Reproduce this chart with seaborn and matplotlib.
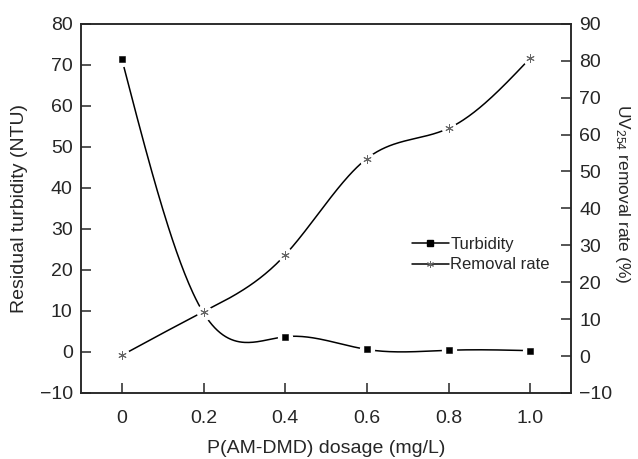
import numpy as np
import matplotlib
matplotlib.use("Agg")
import matplotlib.pyplot as plt
import pandas as pd
import seaborn as sns

# data
dosage = [0, 0.2, 0.4, 0.6, 0.8, 1.0]
turbidity = [71.4, 9.5, 3.7, 0.6, 0.4, 0.3]
removal = [0.2, 12.0, 27.4, 53.5, 61.7, 80.7]

xticks = [0, 0.2, 0.4, 0.6, 0.8, 1.0]
xticklabels = ["0", "0.2", "0.4", "0.6", "0.8", "1.0"]

sns.set_style("ticks")
plt.rcParams["font.family"] = ["Liberation Sans", "DejaVu Sans"]
plt.rcParams["mathtext.fontset"] = "custom"
plt.rcParams["mathtext.rm"] = "Liberation Sans"
plt.rcParams["mathtext.it"] = "Liberation Sans:italic"
plt.rcParams["axes.linewidth"] = 1.1


def natural_spline(x, y, n=300):
    # natural cubic spline, only used to draw the smooth connecting curve
    x = np.asarray(x, float)
    y = np.asarray(y, float)
    k = len(x)
    h = np.diff(x)
    A = np.zeros((k, k))
    b = np.zeros(k)
    A[0, 0] = 1
    A[-1, -1] = 1
    for i in range(1, k - 1):
        A[i, i - 1] = h[i - 1]
        A[i, i] = 2 * (h[i - 1] + h[i])
        A[i, i + 1] = h[i]
        b[i] = 3 * ((y[i + 1] - y[i]) / h[i] - (y[i] - y[i - 1]) / h[i - 1])
    c = np.linalg.solve(A, b)
    xs = np.linspace(x[0], x[-1], n)
    ys = np.empty_like(xs)
    for j, xv in enumerate(xs):
        i = min(np.searchsorted(x, xv, side="right") - 1, k - 2)
        bb = (y[i + 1] - y[i]) / h[i] - h[i] * (2 * c[i] + c[i + 1]) / 3
        d = (c[i + 1] - c[i]) / (3 * h[i])
        t = xv - x[i]
        ys[j] = y[i] + bb * t + c[i] * t ** 2 + d * t ** 3
    return xs, ys


df = pd.DataFrame({"dosage": dosage, "turbidity": turbidity, "removal": removal})

fig = plt.figure(figsize=(6.38, 4.59), dpi=100)
ax = fig.add_axes([0.127, 0.144, 0.768, 0.804])
ax2 = ax.twinx()

# turbidity on left axis
xs, ys = natural_spline(dosage, turbidity)
ax.plot(xs, ys, color="black", lw=1.1, zorder=2)
ax.plot(dosage, turbidity, ls="none", marker="o", ms=10, mfc="white", mec="white", zorder=3)
sns.scatterplot(data=df, x="dosage", y="turbidity", ax=ax, marker="s", s=22,
                color="black", edgecolor="black", zorder=4, legend=False)

# removal rate on right axis
xs2, ys2 = natural_spline(dosage, removal)
ax2.plot(xs2, ys2, color="black", lw=1.1, zorder=2)
ax2.plot(dosage, removal, ls="none", marker="o", ms=10, mfc="white", mec="white", zorder=3)
ax2.plot(dosage, removal, ls="none", marker=(6, 2, 0), ms=6, mec="#666666",
         mew=0.7, zorder=4)

ax.set_xlim(-0.1, 1.1)
ax.set_ylim(-10, 80)
ax2.set_ylim(-10, 90)
ax.set_xticks(xticks)
ax.set_xticklabels(xticklabels)
ax.set_yticks(range(-10, 81, 10))
ax2.set_yticks(range(-10, 91, 10))

for a in (ax, ax2):
    a.tick_params(direction="in", length=7, width=1.1, labelsize=14, pad=6)
    for s in a.spines.values():
        s.set_linewidth(1.1)
ax.tick_params(axis="x", pad=12)
ax.spines["top"].set_visible(True)
ax2.spines["top"].set_visible(True)

ax.set_xlabel("P(AM-DMD) dosage (mg/L)", fontsize=14, labelpad=10)
ax.set_ylabel("Residual turbidity (NTU)", fontsize=14, labelpad=8)
ax2.set_ylabel("UV$_{254}$ removal rate (%)", fontsize=12.5, rotation=270,
               va="center", ha="center")
ax2.yaxis.set_label_coords(1.106, 0.54)

h1 = plt.Line2D([], [], color="black", lw=1.1, marker="s", ms=4.5)
h2 = plt.Line2D([], [], color="black", lw=1.1, marker=(6, 2, 0), ms=5, mec="#666666", mew=0.7)
ax2.legend([h1, h2], ["Turbidity", "Removal rate"], loc="center left",
           bbox_to_anchor=(0.645, 0.375), frameon=False, fontsize=12,
           handlelength=2.2, handletextpad=0.1, labelspacing=0.35)

fig.savefig("out.png", dpi=100)
